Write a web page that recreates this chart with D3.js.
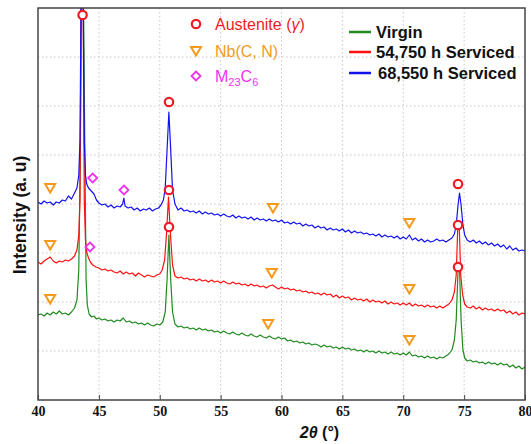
<!DOCTYPE html>
<html>
<head>
<meta charset="utf-8">
<script src="https://cdn.jsdelivr.net/npm/d3@7"></script>
<style>
  body { margin: 0; background: #fff; }
  svg { display: block; }
</style>
</head>
<body>
<svg id="chart" width="531" height="444"></svg>
<script>
// 2theta (deg), intensity (a.u.)
const virgin = [
  [40.00,85],[40.25,86],[40.50,84],[40.75,87],[41.00,85],[41.25,88],[41.50,86],[41.75,89],[42.00,86],[42.25,87],[42.50,85],[42.75,88],
  [43.00,92],[43.20,100],[43.35,130],[43.48,250],[43.58,420],[43.72,420],[43.85,250],[43.95,120],[44.05,95],[44.20,86],[44.40,83],
  [44.60,84],[44.80,81],[45.00,82],[45.25,80],[45.50,81],[45.75,79],[46.00,80],[46.25,78],[46.50,80],[46.75,79],[47.00,82],[47.25,78],
  [47.50,79],[47.75,77],[48.00,78],[48.25,76],[48.50,77],[48.75,75],[49.00,77],[49.25,75],[49.50,74],[49.75,76],[50.00,75],[50.25,78],
  [50.45,88],[50.60,120],[50.75,165],[50.90,120],[51.05,88],[51.25,76],[51.50,73],[51.75,74],[52.00,72],[52.25,73],[52.50,71],[52.75,72],
  [53.00,70],[53.25,72],[53.50,70],[53.75,71],[54.00,69],[54.25,70],[54.50,68],[54.75,69],[55.00,67],[55.25,69],[55.50,67],[55.75,66],
  [56.00,68],[56.25,66],[56.50,65],[56.75,67],[57.00,65],[57.25,64],[57.50,66],[57.75,64],[58.00,63],[58.25,65],[58.50,63],[58.75,62],
  [59.00,64],[59.25,62],[59.50,61],[59.75,63],[60.00,61],[60.25,62],[60.50,59],[60.75,60],[61.00,58],[61.25,59],[61.50,57],[61.75,58],
  [62.00,56],[62.25,57],[62.50,55],[62.75,56],[63.00,55],[63.25,53],[63.50,55],[63.75,53],[64.00,54],[64.25,52],[64.50,53],[64.75,51],
  [65.00,53],[65.25,51],[65.50,52],[65.75,50],[66.00,51],[66.25,49],[66.50,50],[66.75,48],[67.00,50],[67.25,48],[67.50,49],[67.75,47],
  [68.00,49],[68.25,47],[68.50,48],[68.75,46],[69.00,48],[69.25,46],[69.50,47],[69.75,45],[70.00,47],[70.25,45],[70.50,48],[70.75,44],
  [71.00,45],[71.25,43],[71.50,44],[71.75,42],[72.00,44],[72.25,42],[72.50,43],[72.75,41],[73.00,43],[73.25,42],[73.50,44],[73.75,46],
  [74.00,50],[74.20,60],[74.35,80],[74.50,130],[74.62,132],[74.75,80],[74.90,50],[75.05,42],[75.25,39],[75.50,40],[75.75,38],[76.00,39],
  [76.25,37],[76.50,38],[76.75,36],[77.00,38],[77.25,36],[77.50,37],[77.75,35],[78.00,37],[78.25,35],[78.50,36],[78.75,33],[79.00,35],
  [79.25,32],[79.50,34],[79.75,31],[80.00,33]
];
const serviced54750 = [
  [40.00,138],[40.25,136],[40.50,139],[40.75,141],[41.00,143],[41.25,139],[41.50,137],[41.75,139],[42.00,138],[42.25,140],[42.50,139],
  [42.75,141],[43.00,144],[43.20,150],[43.35,165],[43.45,200],[43.55,420],[43.70,420],[43.80,200],[43.90,160],[44.00,148],[44.15,142],
  [44.30,138],[44.50,135],[44.75,133],[45.00,132],[45.25,130],[45.50,131],[45.75,129],[46.00,130],[46.25,128],[46.50,127],[46.75,129],
  [47.00,126],[47.25,128],[47.50,126],[47.75,127],[48.00,124],[48.25,127],[48.50,125],[48.75,123],[49.00,125],[49.25,124],[49.50,123],
  [49.75,125],[50.00,126],[50.20,130],[50.40,140],[50.55,165],[50.72,203],[50.88,165],[51.05,135],[51.25,124],[51.50,122],[51.75,123],
  [52.00,121],[52.25,122],[52.50,120],[52.75,121],[53.00,119],[53.25,121],[53.50,119],[53.75,120],[54.00,118],[54.25,120],[54.50,118],
  [54.75,119],[55.00,117],[55.25,119],[55.50,117],[55.75,116],[56.00,118],[56.25,116],[56.50,117],[56.75,115],[57.00,116],[57.25,114],
  [57.50,116],[57.75,114],[58.00,115],[58.25,113],[58.50,114],[58.75,112],[59.00,114],[59.25,115],[59.50,113],[59.75,111],[60.00,113],
  [60.25,111],[60.50,112],[60.75,110],[61.00,111],[61.25,109],[61.50,110],[61.75,108],[62.00,109],[62.25,107],[62.50,108],[62.75,106],
  [63.00,107],[63.25,105],[63.50,107],[63.75,105],[64.00,106],[64.25,103],[64.50,105],[64.75,102],[65.00,104],[65.25,102],[65.50,103],
  [65.75,100],[66.00,102],[66.25,100],[66.50,101],[66.75,99],[67.00,101],[67.25,98],[67.50,100],[67.75,98],[68.00,99],[68.25,97],
  [68.50,99],[68.75,96],[69.00,98],[69.25,96],[69.50,97],[69.75,95],[70.00,97],[70.25,95],[70.50,97],[70.75,94],[71.00,96],[71.25,94],
  [71.50,95],[71.75,93],[72.00,95],[72.25,93],[72.50,94],[72.75,92],[73.00,94],[73.25,92],[73.50,94],[73.75,96],[74.00,100],[74.20,108],
  [74.35,125],[74.48,174],[74.60,174],[74.72,125],[74.88,105],[75.05,96],[75.25,93],[75.50,92],[75.75,94],[76.00,91],[76.25,93],
  [76.50,90],[76.75,92],[77.00,90],[77.25,91],[77.50,89],[77.75,91],[78.00,89],[78.25,90],[78.50,87],[78.75,89],[79.00,86],[79.25,88],
  [79.50,85],[79.75,87],[80.00,86]
];
const serviced68550 = [
  [40.00,198],[40.25,196],[40.50,199],[40.75,197],[41.00,198],[41.25,195],[41.50,198],[41.75,197],[42.00,200],[42.25,199],[42.50,204],
  [42.75,201],[43.00,207],[43.20,212],[43.35,225],[43.45,260],[43.55,420],[43.70,420],[43.80,260],[43.90,225],[44.00,216],[44.15,212],
  [44.30,210],[44.45,208],[44.60,206],[44.80,200],[45.00,197],[45.25,195],[45.50,196],[45.75,193],[46.00,195],[46.25,192],[46.50,194],
  [46.75,193],[46.95,196],[47.05,202],[47.15,194],[47.40,192],[47.65,193],[47.90,190],[48.15,192],[48.40,189],[48.65,191],[48.90,190],
  [49.15,192],[49.40,189],[49.65,191],[49.90,192],[50.10,195],[50.30,200],[50.45,212],[50.60,250],[50.75,288],[50.90,250],[51.05,210],
  [51.25,196],[51.50,190],[51.75,192],[52.00,189],[52.25,190],[52.50,188],[52.75,189],[53.00,187],[53.25,189],[53.50,186],[53.75,188],
  [54.00,186],[54.25,187],[54.50,185],[54.75,186],[55.00,184],[55.25,186],[55.50,184],[55.75,183],[56.00,185],[56.25,182],[56.50,184],
  [56.75,182],[57.00,183],[57.25,181],[57.50,183],[57.75,180],[58.00,182],[58.25,180],[58.50,181],[58.75,179],[59.00,181],[59.25,179],
  [59.50,180],[59.75,178],[60.00,180],[60.25,177],[60.50,178],[60.75,176],[61.00,178],[61.25,176],[61.50,177],[61.75,174],[62.00,176],
  [62.25,174],[62.50,175],[62.75,172],[63.00,174],[63.25,172],[63.50,173],[63.75,170],[64.00,172],[64.25,170],[64.50,171],[64.75,169],
  [65.00,171],[65.25,168],[65.50,170],[65.75,167],[66.00,169],[66.25,167],[66.50,168],[66.75,166],[67.00,167],[67.25,165],[67.50,166],
  [67.75,164],[68.00,166],[68.25,163],[68.50,165],[68.75,163],[69.00,164],[69.25,162],[69.50,164],[69.75,161],[70.00,163],[70.25,161],
  [70.50,165],[70.75,160],[71.00,162],[71.25,159],[71.50,161],[71.75,158],[72.00,160],[72.25,158],[72.50,159],[72.75,161],[73.00,159],
  [73.25,160],[73.50,158],[73.75,160],[74.00,162],[74.20,166],[74.35,175],[74.50,195],[74.62,207],[74.75,195],[74.90,175],[75.05,165],
  [75.25,160],[75.50,158],[75.75,160],[76.00,157],[76.25,159],[76.50,156],[76.75,158],[77.00,155],[77.25,157],[77.50,154],[77.75,156],
  [78.00,153],[78.25,155],[78.50,151],[78.75,154],[79.00,150],[79.25,152],[79.50,149],[79.75,150],[80.00,149]
];

// phase markers
const austenite = [[43.66,385],[50.76,298],[50.76,210],[50.76,173],[74.5,216],[74.5,175],[74.5,133]];
const nbcn = [[41.0,212],[59.3,192],[70.5,177],[41.0,155],[59.2,127],[70.5,111],[41.0,101],[58.9,76],[70.5,60]];
const m23c6 = [[44.49,222],[47.06,210],[44.27,153]];

const xTicks = [40, 45, 50, 55, 60, 65, 70, 75, 80];
const yGrid = [49, 98, 147, 196, 245, 294, 343];

const seriesNames = ['Virgin', '54,750 h Serviced', '68,550 h Serviced'];
const seriesColors = ['#1f8a1f', '#ff1111', '#1212ee'];
const seriesData = [virgin, serviced54750, serviced68550];

const RED = '#ee1c24', ORANGE = '#f59a1c', MAGENTA = '#ee33ee';

const svg = d3.select('#chart');
const margin = { left: 38, right: 6, top: 8, bottom: 44 };
const width = 531 - margin.left - margin.right;
const height = 444 - margin.top - margin.bottom;

const x = d3.scaleLinear().domain([40, 80]).range([margin.left, margin.left + width]);
const y = d3.scaleLinear().domain([0, 392]).range([margin.top + height, margin.top]);

svg.append('defs').append('clipPath').attr('id', 'clip')
  .append('rect')
  .attr('x', margin.left).attr('y', margin.top)
  .attr('width', width).attr('height', height);

// grid
const grid = svg.append('g').attr('stroke', '#c8c8c8').attr('stroke-width', 1).attr('stroke-dasharray', '1.5,2.5');
grid.selectAll('.vg').data(xTicks.slice(1, -1)).enter().append('line')
  .attr('x1', d => x(d)).attr('x2', d => x(d))
  .attr('y1', margin.top).attr('y2', margin.top + height);
grid.selectAll('.hg').data(yGrid).enter().append('line')
  .attr('x1', margin.left).attr('x2', margin.left + width)
  .attr('y1', d => y(d)).attr('y2', d => y(d));

// traces
const line = d3.line().x(d => x(d[0])).y(d => y(d[1]));
const plot = svg.append('g').attr('clip-path', 'url(#clip)');
seriesData.forEach((s, i) => {
  plot.append('path')
    .datum(s)
    .attr('fill', 'none')
    .attr('stroke', seriesColors[i])
    .attr('stroke-width', 1.2)
    .attr('stroke-linejoin', 'round')
    .attr('d', line);
});

// symbols
function circleMark(g, cx, cy) {
  g.append('circle').attr('cx', cx).attr('cy', cy).attr('r', 4.2)
    .attr('fill', '#fff').attr('stroke', RED).attr('stroke-width', 2.2);
}
function triMark(g, cx, cy) {
  g.append('path')
    .attr('d', `M${cx - 5},${cy - 4} L${cx + 5},${cy - 4} L${cx},${cy + 4.5} Z`)
    .attr('fill', 'none').attr('stroke', ORANGE).attr('stroke-width', 2).attr('stroke-linejoin', 'miter');
}
function diaMark(g, cx, cy) {
  g.append('path')
    .attr('d', `M${cx},${cy - 4.5} L${cx + 4.5},${cy} L${cx},${cy + 4.5} L${cx - 4.5},${cy} Z`)
    .attr('fill', 'none').attr('stroke', MAGENTA).attr('stroke-width', 1.8);
}
const marks = svg.append('g');
nbcn.forEach(d => triMark(marks, x(d[0]), y(d[1])));
m23c6.forEach(d => diaMark(marks, x(d[0]), y(d[1])));
austenite.forEach(d => circleMark(marks, x(d[0]), y(d[1])));

// axes
const xAxis = svg.append('g')
  .attr('transform', `translate(0,${margin.top + height})`)
  .call(d3.axisBottom(x).tickValues(xTicks).tickSize(-5).tickPadding(6).tickFormat(d3.format('d')));
xAxis.select('.domain').remove();
xAxis.selectAll('line').attr('stroke', '#444');
xAxis.selectAll('text')
  .attr('font-family', '"Liberation Serif", "Times New Roman", serif')
  .attr('font-weight', 'bold').attr('font-size', 14).attr('fill', '#111');

svg.append('rect')
  .attr('x', margin.left).attr('y', margin.top)
  .attr('width', width).attr('height', height)
  .attr('fill', 'none').attr('stroke', '#444').attr('stroke-width', 1.5);

// axis titles
const xt = svg.append('text')
  .attr('x', margin.left + width / 2 + 38).attr('y', 438)
  .attr('text-anchor', 'middle')
  .attr('font-family', '"Liberation Sans", Arial, sans-serif')
  .attr('font-weight', 'bold').attr('font-size', 16).attr('fill', '#111');
xt.append('tspan').attr('font-style', 'italic').text('2θ');
xt.append('tspan').text(' (°)');

svg.append('text')
  .attr('transform', 'translate(26,215) rotate(-90)')
  .attr('text-anchor', 'middle')
  .attr('font-family', '"Liberation Sans", Arial, sans-serif')
  .attr('font-weight', 'bold').attr('font-size', 17.5).attr('fill', '#111')
  .text('Intensity (a. u)');

// phase legend
const pl = svg.append('g').attr('font-family', '"Liberation Sans", Arial, sans-serif').attr('font-size', 16);
circleMark(pl, 196, 24);
const at = pl.append('text').attr('x', 215).attr('y', 30).attr('fill', RED);
at.append('tspan').text('Austenite (');
at.append('tspan').attr('font-style', 'italic').text('γ');
at.append('tspan').text(')');
triMark(pl, 196, 51);
pl.append('text').attr('x', 215).attr('y', 57).attr('fill', ORANGE).text('Nb(C, N)');
diaMark(pl, 196, 76);
const mt = pl.append('text').attr('x', 215).attr('y', 82).attr('fill', MAGENTA);
mt.append('tspan').text('M');
mt.append('tspan').attr('font-size', 11).attr('dy', 4).text('23');
mt.append('tspan').attr('dy', -4).text('C');
mt.append('tspan').attr('font-size', 11).attr('dy', 4).text('6');

// series legend
const sl = svg.append('g');
const legY = [32, 52, 73];
seriesNames.forEach((n, i) => {
  sl.append('line')
    .attr('x1', 349).attr('x2', 371).attr('y1', legY[i]).attr('y2', legY[i])
    .attr('stroke', seriesColors[i]).attr('stroke-width', 2.5);
  sl.append('text')
    .attr('x', i === 2 ? 378 : 376).attr('y', legY[i] + 6)
    .attr('font-family', '"Liberation Sans", Arial, sans-serif')
    .attr('font-weight', 'bold').attr('font-size', 16.5).attr('fill', '#111')
    .text(n);
});
</script>
</body>
</html>
